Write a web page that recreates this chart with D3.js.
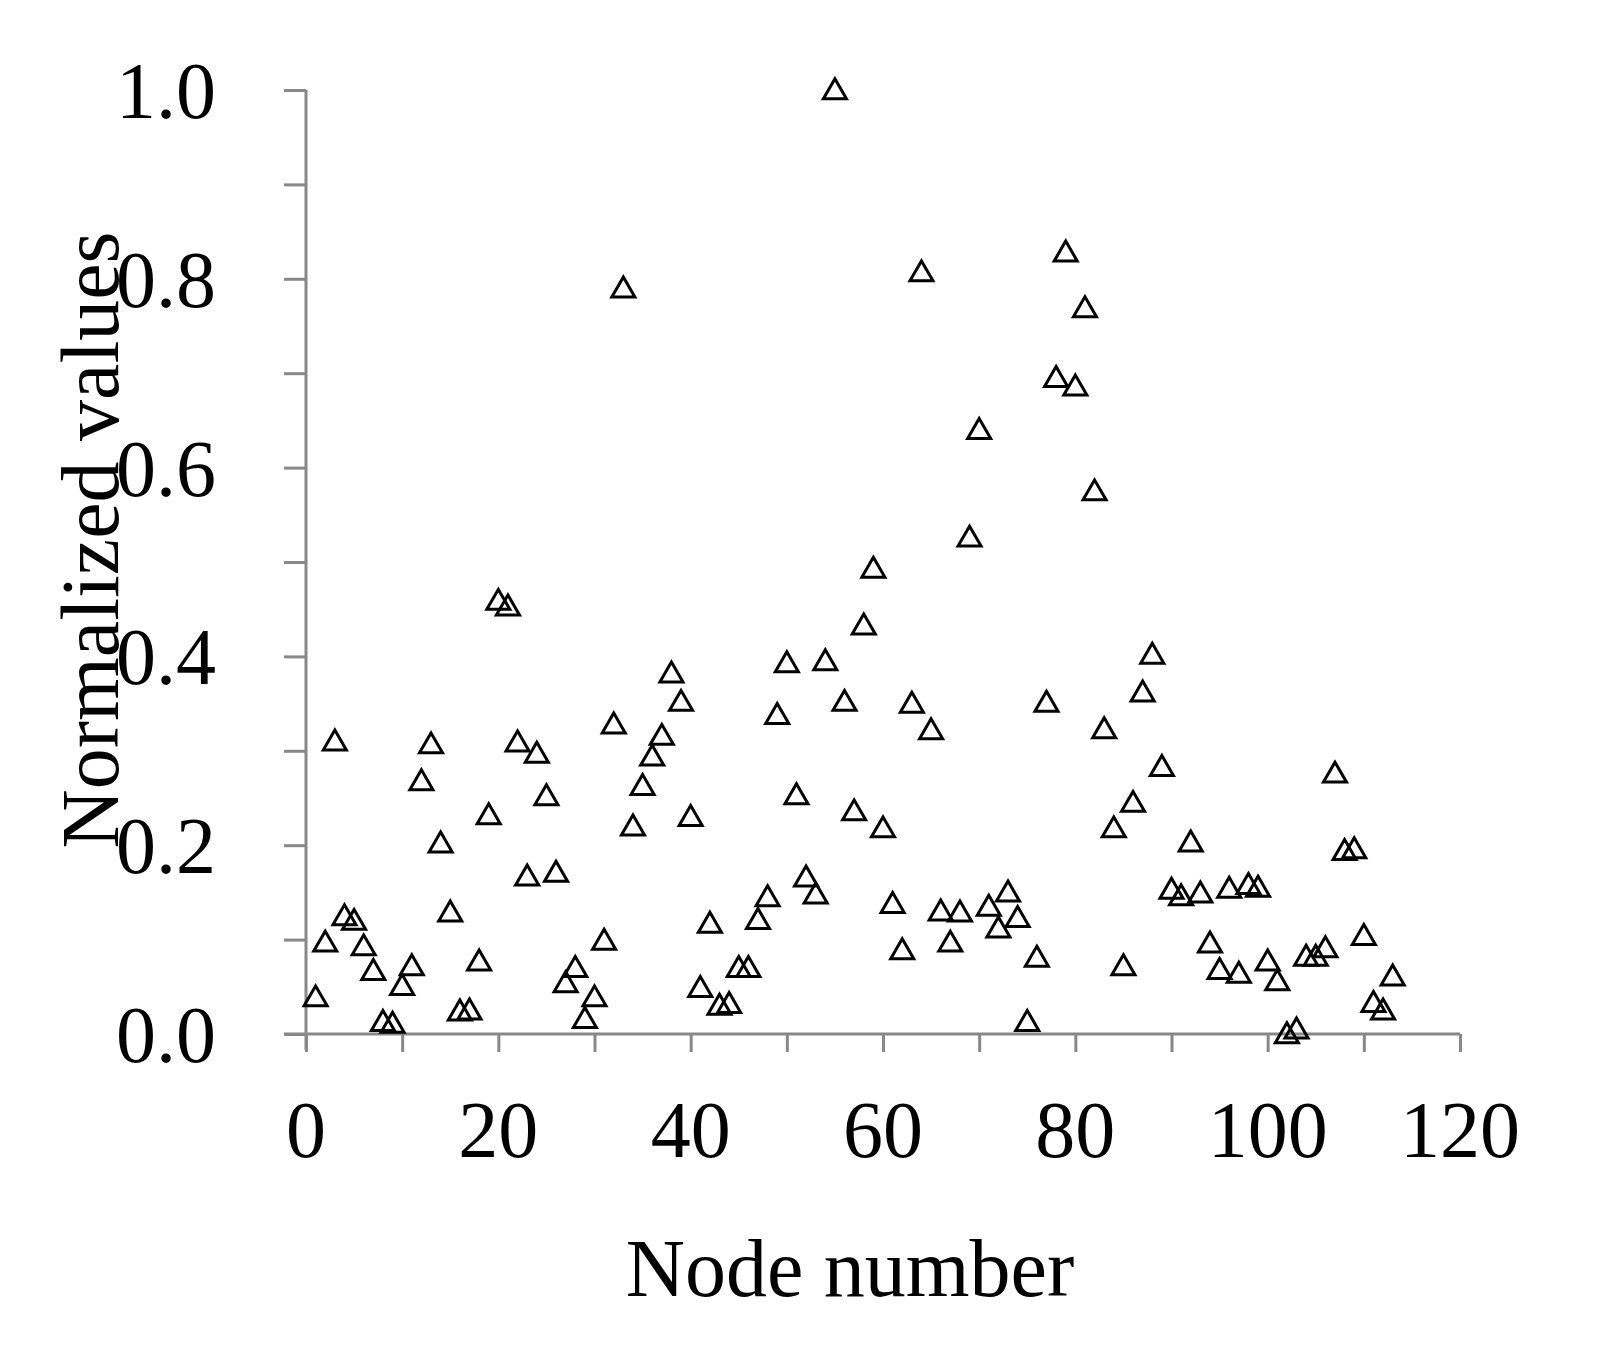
<!DOCTYPE html>
<html><head><meta charset="utf-8">
<script src="https://cdn.jsdelivr.net/npm/d3@7"></script>
<style>body{margin:0;background:#fff}text{font-family:"Liberation Serif","Times New Roman",serif}</style>
</head><body><svg id="c" width="1605" height="1368"></svg>
<script>
const values=[0.039,0.097,0.31,0.125,0.12,0.093,0.067,0.013,0.011,0.051,0.072,0.268,0.307,0.202,0.129,0.024,0.025,0.077,0.232,0.459,0.453,0.309,0.167,0.297,0.252,0.171,0.054,0.07,0.016,0.039,0.099,0.328,0.79,0.22,0.263,0.294,0.316,0.382,0.352,0.23,0.049,0.117,0.03,0.032,0.07,0.07,0.121,0.145,0.338,0.393,0.253,0.166,0.148,0.395,1.0,0.352,0.236,0.433,0.493,0.218,0.138,0.089,0.35,0.807,0.322,0.13,0.097,0.129,0.526,0.64,0.135,0.112,0.15,0.123,0.013,0.081,0.351,0.695,0.828,0.686,0.769,0.575,0.323,0.218,0.072,0.245,0.362,0.402,0.283,0.153,0.146,0.203,0.149,0.096,0.068,0.154,0.064,0.158,0.155,0.077,0.056,0.0,0.005,0.082,0.082,0.091,0.276,0.194,0.196,0.104,0.033,0.025,0.061];
const nodes=values.map((v,i)=>i+1);
const xTicks=[0,20,40,60,80,100,120];
const yTicks=[0,0.2,0.4,0.6,0.8,1.0];
const svg=d3.select("#c");
const x=d3.scaleLinear().domain([0,120]).range([306,1460]);
const y=d3.scaleLinear().domain([0,1]).range([1034,90]);
const grey="#888";
const gx=svg.append("g").attr("transform","translate(0,1034)")
 .call(d3.axisBottom(x).tickValues(d3.range(0,121,10)).tickSize(18).tickFormat(""));
gx.selectAll("line,path").attr("stroke",grey).attr("stroke-width",3);
gx.select(".domain").attr("d","M284,0H1460");
svg.append("g").selectAll("text").data(xTicks).join("text")
 .attr("x",d=>x(d)).attr("y",1157).attr("text-anchor","middle").attr("font-size",80).text(d=>d);
const gy=svg.append("g").attr("transform","translate(306,0)")
 .call(d3.axisLeft(y).tickValues(d3.range(0,1.01,0.1)).tickSize(22).tickFormat(""));
gy.selectAll("line,path").attr("stroke",grey).attr("stroke-width",3);
gy.select(".domain").attr("d","M0,90V1050");
svg.append("g").selectAll("text").data(yTicks).join("text")
 .attr("x",216).attr("y",d=>y(d)+28).attr("text-anchor","end").attr("font-size",80).text(d=>d.toFixed(1));
svg.append("text").attr("x",850).attr("y",1296).attr("text-anchor","middle").attr("font-size",82).text("Node number");
svg.append("text").attr("transform","translate(118,540) rotate(-90)").attr("text-anchor","middle").attr("font-size",82).text("Normalized values");
const tri=d3.symbol().type(d3.symbolTriangle).size(230);
svg.append("g").selectAll("path").data(values).join("path")
 .attr("transform",(d,i)=>`translate(${x(nodes[i])},${y(d)+2})`).attr("d",tri)
 .attr("fill","none").attr("stroke","#000").attr("stroke-width",3);
</script></body></html>
